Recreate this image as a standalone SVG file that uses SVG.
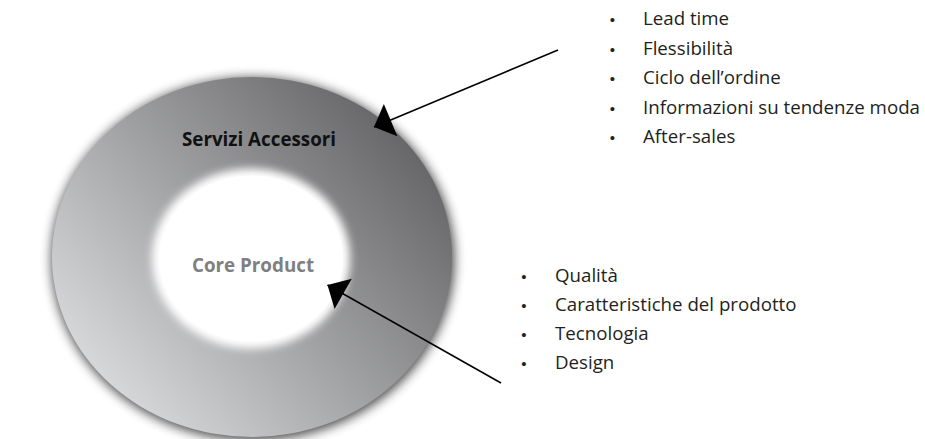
<svg xmlns="http://www.w3.org/2000/svg" width="925" height="439" viewBox="0 0 925 439">
  <defs>
    <linearGradient id="ringGrad" gradientUnits="userSpaceOnUse" x1="90" y1="410" x2="430" y2="110">
      <stop offset="0" stop-color="#dfe0e2"/>
      <stop offset="1" stop-color="#5c5c5e"/>
    </linearGradient>
    <filter id="blurOuter" x="-20%" y="-20%" width="140%" height="140%">
      <feGaussianBlur stdDeviation="6"/>
    </filter>
    <filter id="blurInner" x="-30%" y="-30%" width="160%" height="160%">
      <feGaussianBlur stdDeviation="4"/>
    </filter>
    <marker id="head" markerUnits="userSpaceOnUse" markerWidth="20" markerHeight="36" viewBox="0 -17 18 34" refX="17" refY="0" orient="auto">
      <path d="M0,-16.5 L17,0 L0,16.5 Z" fill="#000"/>
    </marker>
    <style>
      .list { font-family: "Open Sans", "Liberation Sans", sans-serif; font-size: 18.7px; fill: #231f20; }
      .bullet { font-family: "Liberation Sans", "Open Sans", sans-serif; font-size: 15px; fill: #231f20; text-anchor: middle; }
      .label { font-family: "Open Sans", "Liberation Sans", sans-serif; font-size: 18.8px; font-weight: bold; text-anchor: middle; }
      .conn { stroke: #000; stroke-width: 1.5; fill: none; marker-end: url(#head); }
    </style>
  </defs>
  <rect x="0" y="0" width="925" height="439" fill="#ffffff"/>

  <g id="ring">
    <ellipse cx="253" cy="259" rx="201" ry="181" fill="#000" opacity="0.75" filter="url(#blurOuter)"/>
    <ellipse cx="252" cy="257" rx="200" ry="180" fill="url(#ringGrad)"/>
    <ellipse cx="251" cy="258.5" rx="99" ry="90" fill="#ffffff" filter="url(#blurInner)"/>
    <ellipse cx="251" cy="258.5" rx="92" ry="83" fill="#ffffff"/>
    <text class="label" x="259" y="146" fill="#111111">Servizi Accessori</text>
  </g>

  <g id="core">
    <text class="label" x="253" y="272" fill="#808080">Core Product</text>
  </g>

  <g id="connectors">
    <line class="conn" x1="558" y1="50" x2="374" y2="127"/>
    <line class="conn" x1="501" y1="383" x2="327.5" y2="285"/>
  </g>

  <g id="services-list">
    <text class="bullet" x="612.5" y="25">•</text>
    <text class="list" x="643" y="25">Lead time</text>
    <text class="bullet" x="612.5" y="54.5">•</text>
    <text class="list" x="643" y="54.5">Flessibilità</text>
    <text class="bullet" x="612.5" y="84">•</text>
    <text class="list" x="643" y="84">Ciclo dell’ordine</text>
    <text class="bullet" x="612.5" y="113.5">•</text>
    <text class="list" x="643" y="113.5">Informazioni su tendenze moda</text>
    <text class="bullet" x="612.5" y="143">•</text>
    <text class="list" x="643" y="143">After-sales</text>
  </g>

  <g id="product-list">
    <text class="bullet" x="524" y="282">•</text>
    <text class="list" x="555" y="282">Qualità</text>
    <text class="bullet" x="524" y="311">•</text>
    <text class="list" x="555" y="311">Caratteristiche del prodotto</text>
    <text class="bullet" x="524" y="340">•</text>
    <text class="list" x="555" y="340">Tecnologia</text>
    <text class="bullet" x="524" y="368.5">•</text>
    <text class="list" x="555" y="368.5">Design</text>
  </g>
</svg>
